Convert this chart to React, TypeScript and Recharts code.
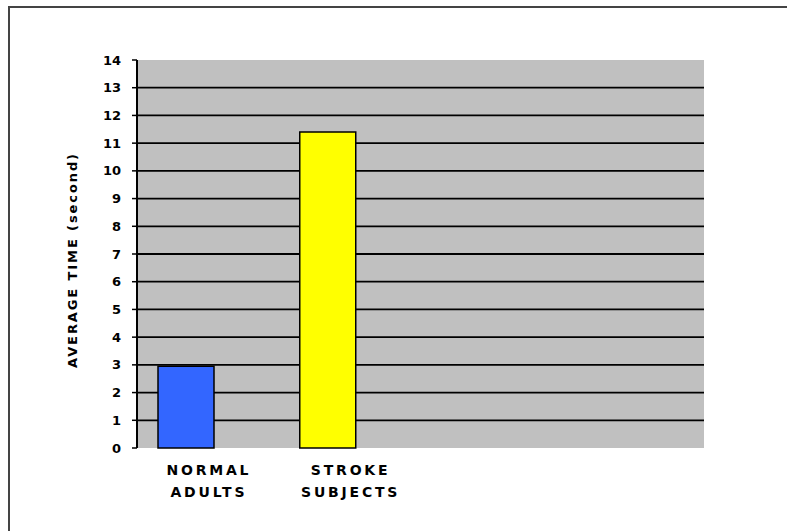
import { Bar, BarChart, CartesianGrid, Cell, Label, XAxis, YAxis } from "recharts";

const groups = ["NORMAL ADULTS", "STROKE SUBJECTS", "", ""];
const avgTime = [2.95, 11.4, null, null];
// second (empty) series slot, as in the original clustered layout
const emptySeries = [null, null, null, null];
const barColors = ["#3366FF", "#FFFF00", "#FFFF00", "#FFFF00"];
const yTicks = [0, 1, 2, 3, 4, 5, 6, 7, 8, 9, 10, 11, 12, 13, 14];
const gridValues = [1, 2, 3, 4, 5, 6, 7, 8, 9, 10, 11, 12, 13];
const edgeTicks = [0, 1, 2, 3, 4];
const yTitle = "AVERAGE TIME (second)";

const chartData = groups.map((g, i) => ({ name: g, time: avgTime[i], other: emptySeries[i] }));

const font = "'DejaVu Sans', Verdana, sans-serif";

function GroupTick(props: any) {
  const { x, y, payload } = props;
  const words = String(payload.value).split(" ").filter(Boolean);
  return (
    <text x={x} y={y} textAnchor="middle" fontFamily={font} fontWeight="bold" fontSize={14} letterSpacing={2.8} fill="#000">
      {words.map((w: string, i: number) => (
        <tspan key={i} x={x + 1} dy={i === 0 ? 27 : 22}>{w}</tspan>
      ))}
    </text>
  );
}

function YTitle(props: any) {
  const vb = props.viewBox;
  const cx = vb.x - 8;
  const cy = vb.y + vb.height / 2 + 6;
  return (
    <text
      x={cx}
      y={cy}
      transform={`rotate(-90, ${cx}, ${cy})`}
      textAnchor="middle"
      dominantBaseline="central"
      fontFamily={font}
      fontWeight="bold"
      fontSize={13}
      letterSpacing={1.9}
      fill="#000"
    >
      {yTitle}
    </text>
  );
}

export default function App() {
  return (
    <div style={{ position: "absolute", left: 0, top: 0, width: 787, height: 531, overflow: "hidden", background: "#fff" }}>
      <div style={{ position: "absolute", left: 8, top: 6, width: 800, height: 540, borderTop: "2px solid #444", borderLeft: "2px solid #444" }} />
      <div style={{ position: "absolute", left: 0, top: 0 }}>
        <BarChart width={787} height={531} data={chartData} margin={{ top: 60, right: 83, bottom: 23, left: 80 }} barGap={-12}>
          <CartesianGrid xAxisId="cat" vertical={false} horizontalValues={gridValues} stroke="#000" strokeWidth={1.8} fill="#C0C0C0" fillOpacity={1} />
          <XAxis xAxisId="edges" type="number" domain={[0, 4]} ticks={edgeTicks} tick={false} height={0} tickSize={5} tickLine={{ stroke: "#000", strokeWidth: 1.5 }} axisLine={{ stroke: "#000", strokeWidth: 2 }} />
          <XAxis xAxisId="cat" dataKey="name" height={60} interval={0} tickSize={0} tickMargin={0} tickLine={false} axisLine={false} tick={<GroupTick />} />
          <XAxis xAxisId="top" orientation="top" type="number" domain={[0, 4]} height={0} tick={false} tickLine={false} axisLine={{ stroke: "#808080", strokeWidth: 1.5 }} />
          <YAxis
            width={57}
            domain={[0, 14]}
            ticks={yTicks}
            interval={0}
            tickSize={5}
            tickMargin={11}
            tickLine={{ stroke: "#000", strokeWidth: 1.5 }}
            axisLine={{ stroke: "#000", strokeWidth: 2 }}
            tick={{ fill: "#000", fontSize: 13, fontWeight: "bold", fontFamily: font }}
          >
            <Label content={<YTitle />} />
          </YAxis>
          <YAxis yAxisId="right" orientation="right" width={0} tick={false} tickLine={false} axisLine={{ stroke: "#808080", strokeWidth: 1.5 }} />
          <Bar xAxisId="cat" dataKey="time" barSize={56} stroke="#000" strokeWidth={1.5} isAnimationActive={false}>
            {chartData.map((d, i) => (
              <Cell key={i} fill={barColors[i]} />
            ))}
          </Bar>
          <Bar xAxisId="cat" dataKey="other" barSize={56} fill="#FF00FF" stroke="#000" strokeWidth={1.5} isAnimationActive={false} />
        </BarChart>
      </div>
    </div>
  );
}
